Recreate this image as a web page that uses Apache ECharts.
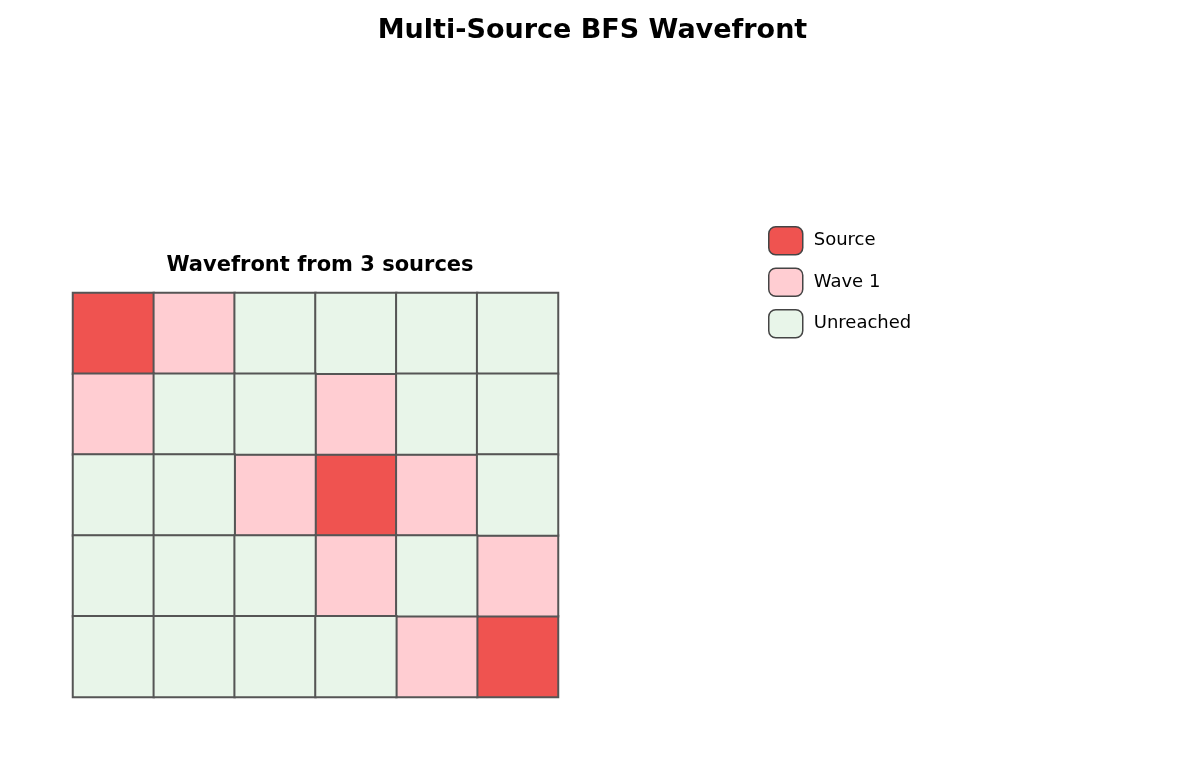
<!DOCTYPE html>
<html><head><meta charset="utf-8">
<script src="https://cdn.jsdelivr.net/npm/echarts@6/dist/echarts.min.js"></script>
<style>html,body{margin:0;background:#fff}#c{width:1185px;height:770px}</style>
</head><body><div id="c"></div>
<script>
// grid states: S = source, W = wave 1, U = unreached
var columns = ['0', '1', '2', '3', '4', '5'];
var rows = ['0', '1', '2', '3', '4'];
var gridStates = [
    ['S', 'W', 'U', 'U', 'U', 'U'],
    ['W', 'U', 'U', 'W', 'U', 'U'],
    ['U', 'U', 'W', 'S', 'W', 'U'],
    ['U', 'U', 'U', 'W', 'U', 'W'],
    ['U', 'U', 'U', 'U', 'W', 'S']
];
var stateNames = { S: 'Source', W: 'Wave 1', U: 'Unreached' };
var stateColors = { S: '#EF5350', W: '#FFCDD2', U: '#E8F5E9' };

var chart = echarts.init(document.getElementById('c'));
var series = ['S', 'W', 'U'].map(function (k) {
    var data = [];
    gridStates.forEach(function (row, r) {
        row.forEach(function (s, c) { if (s === k) data.push([c, r, 1]); });
    });
    return {
        name: stateNames[k], type: 'heatmap', data: data,
        itemStyle: { color: stateColors[k], borderColor: '#555', borderWidth: 2 },
        emphasis: { disabled: true }
    };
});

chart.setOption({
    title: [
        { text: 'Multi-Source BFS Wavefront', left: 'center', top: 12,
          textStyle: { fontSize: 27, fontWeight: 'bold', color: '#000', fontFamily: 'DejaVu Sans' } },
        { text: 'Wavefront from 3 sources', left: 315, textAlign: 'center', top: 250,
          textStyle: { fontSize: 21, fontWeight: 'bold', color: '#000', fontFamily: 'DejaVu Sans' } }
    ],
    legend: {
        orient: 'vertical', left: 763, top: 221, itemWidth: 34, itemHeight: 28, itemGap: 12,
        icon: 'roundRect',
        textStyle: { fontSize: 18, color: '#000', fontFamily: 'DejaVu Sans', padding: [0, 0, 0, 6] },
        itemStyle: { borderColor: '#444', borderWidth: 1.5 },
        data: ['Source', 'Wave 1', 'Unreached'],
        selectedMode: false
    },
    grid: { left: 73, top: 293, width: 485, height: 404 },
    xAxis: { type: 'category', data: columns, show: false },
    yAxis: { type: 'category', data: rows, inverse: true, show: false },
    series: series
});
</script></body></html>
